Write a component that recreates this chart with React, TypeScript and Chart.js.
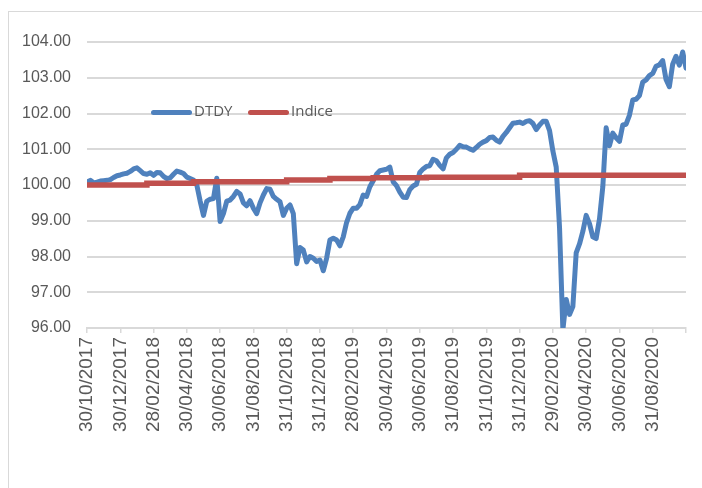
import { useEffect, useRef } from "react";
import { Chart, registerables } from "chart.js";

Chart.register(...registerables);

const tickLabels = [
  "30/10/2017", "30/12/2017", "28/02/2018", "30/04/2018", "30/06/2018", "31/08/2018",
  "31/10/2018", "31/12/2018", "28/02/2019", "30/04/2019", "30/06/2019", "31/08/2019",
  "31/10/2019", "31/12/2019", "29/02/2020", "30/04/2020", "30/06/2020", "31/08/2020",
];

const dtdy = [
  100.08, 100.13, 100.06, 100.08, 100.11, 100.12, 100.13, 100.15, 100.21, 100.26,
  100.28, 100.31, 100.33, 100.38, 100.45, 100.48, 100.40, 100.32, 100.30, 100.34,
  100.27, 100.35, 100.34, 100.24, 100.18, 100.20, 100.30, 100.39, 100.36, 100.32,
  100.22, 100.18, 100.14, 100.00, 99.55, 99.15, 99.55, 99.60, 99.62, 100.19,
  98.98, 99.20, 99.55, 99.58, 99.68, 99.82, 99.75, 99.50, 99.42, 99.56,
  99.35, 99.20, 99.50, 99.72, 99.90, 99.88, 99.68, 99.60, 99.53, 99.15,
  99.35, 99.44, 99.20, 97.80, 98.25, 98.18, 97.85, 98.00, 97.95, 97.86,
  97.90, 97.60, 97.95, 98.46, 98.51, 98.46, 98.30, 98.55, 98.95, 99.21,
  99.35, 99.35, 99.45, 99.72, 99.68, 99.95, 100.12, 100.30, 100.40, 100.42,
  100.44, 100.50, 100.09, 99.98, 99.80, 99.66, 99.65, 99.87, 99.97, 100.02,
  100.35, 100.45, 100.52, 100.54, 100.72, 100.68, 100.55, 100.45, 100.76, 100.86,
  100.91, 101.00, 101.11, 101.07, 101.06, 101.01, 100.97, 101.05, 101.14, 101.20,
  101.24, 101.33, 101.34, 101.25, 101.20, 101.36, 101.47, 101.60, 101.73, 101.74,
  101.76, 101.72, 101.78, 101.80, 101.72, 101.55, 101.68, 101.78, 101.78, 101.52,
  100.95, 100.50, 98.80, 95.95, 96.80, 96.38, 96.60, 98.10, 98.35, 98.70,
  99.15, 98.92, 98.55, 98.50, 99.05, 99.95, 101.60, 101.10, 101.45, 101.32,
  101.22, 101.68, 101.70, 101.95, 102.38, 102.40, 102.50, 102.88, 102.94, 103.06,
  103.12, 103.32, 103.36, 103.48, 102.95, 102.75, 103.38, 103.60, 103.35, 103.72,
  103.27,
];

// Indice: step changes (position in the daily series, value)
const indiceX = [0, 18, 32, 60, 73, 86, 102, 130, 180];
const indiceY = [100.0, 100.05, 100.09, 100.14, 100.18, 100.2, 100.22, 100.27, 100.27];

const seriesNames = ["DTDY", "Indice"];
const seriesColors = ["#4F81BD", "#C0504D"];

const yMin = 96;
const yMax = 104;
const pointsPerTick = 10;

export default function App() {
  const ref = useRef<HTMLCanvasElement>(null);

  useEffect(() => {
    if (!ref.current) return;
    const chart = new Chart(ref.current, {
      type: "line",
      data: {
        datasets: [
          {
            label: seriesNames[0],
            data: dtdy.map((y, i) => ({ x: i, y })),
            borderColor: seriesColors[0],
            backgroundColor: seriesColors[0],
            borderWidth: 5,
            pointRadius: 0,
            tension: 0,
            borderJoinStyle: "round",
            borderCapStyle: "round",
            order: 1,
          },
          {
            label: seriesNames[1],
            data: indiceX.map((x, k) => ({ x, y: indiceY[k] })),
            borderColor: seriesColors[1],
            backgroundColor: seriesColors[1],
            borderWidth: 5.5,
            pointRadius: 0,
            stepped: true,
            order: 0,
          },
        ],
      },
      options: {
        responsive: false,
        animation: false,
        devicePixelRatio: 1,
        layout: { padding: { left: 0, right: 16, top: 42, bottom: 0 } },
        plugins: { legend: { display: false }, tooltip: { enabled: false } },
        scales: {
          x: {
            type: "linear",
            min: 0,
            max: tickLabels.length * pointsPerTick,
            afterFit: (s: any) => {
              s.height = 160;
              s.paddingLeft = 0;
              s.paddingRight = 0;
            },
            ticks: {
              stepSize: pointsPerTick,
              autoSkip: false,
              maxRotation: 90,
              minRotation: 90,
              padding: 4,
              color: "#595959",
              font: { family: "'Liberation Sans', Arial, sans-serif", size: 19 },
              callback: (v: any) => tickLabels[Math.round(Number(v) / pointsPerTick)] ?? "",
            },
            grid: {
              drawOnChartArea: false,
              drawTicks: true,
              tickLength: 5,
              color: "#D9D9D9",
              lineWidth: 1.5,
            },
            border: { display: true, color: "#D9D9D9", width: 2 },
          },
          y: {
            min: yMin,
            max: yMax,
            afterFit: (s: any) => {
              s.width = 87;
            },
            ticks: {
              stepSize: 1,
              padding: 16,
              color: "#595959",
              font: { family: "'Liberation Sans', Arial, sans-serif", size: 16 },
              callback: (v: any) => Number(v).toFixed(2),
            },
            grid: { color: "#D9D9D9", lineWidth: 2, drawTicks: false },
            border: { display: false },
          },
        },
      },
    });
    return () => chart.destroy();
  }, []);

  const legendFont = "'Open Sans', 'Liberation Sans', sans-serif";

  return (
    <div
      style={{
        position: "fixed",
        left: 0,
        top: 0,
        width: 702,
        height: 488,
        overflow: "hidden",
        background: "#fff",
      }}
    >
      <div
        style={{
          position: "absolute",
          left: 8,
          top: 11,
          width: 740,
          height: 520,
          border: "1.5px solid #D9D9D9",
        }}
      />
      <canvas
        ref={ref}
        width={702}
        height={488}
        style={{ position: "absolute", left: 0, top: 0, width: 702, height: 488 }}
      />
      {seriesNames.map((name, k) => (
        <div
          key={name}
          style={{
            position: "absolute",
            left: k === 0 ? 151 : 248,
            top: 102,
            height: 16,
            display: "flex",
            alignItems: "center",
            fontFamily: legendFont,
            fontSize: 15,
            lineHeight: "16px",
            color: "#595959",
            whiteSpace: "nowrap",
          }}
        >
          <span
            style={{
              display: "inline-block",
              width: 41,
              height: 5,
              borderRadius: 3,
              background: seriesColors[k],
              marginRight: 2,
              marginTop: 4,
            }}
          />
          <span>{name}</span>
        </div>
      ))}
    </div>
  );
}
